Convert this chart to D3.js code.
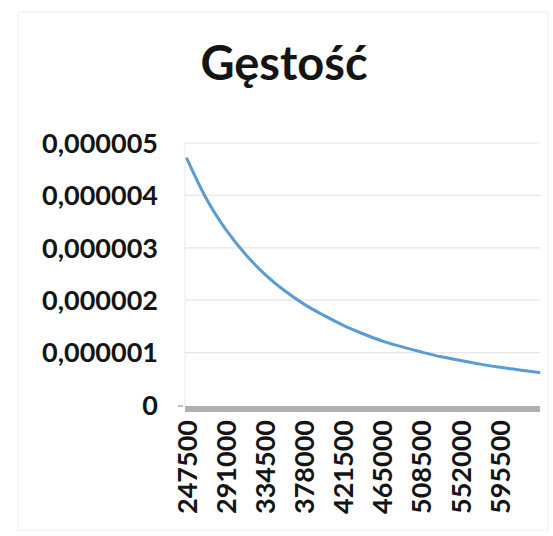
<!DOCTYPE html>
<html>
<head>
<meta charset="utf-8">
<script src="https://cdn.jsdelivr.net/npm/d3@7"></script>
<style>
  html, body { margin: 0; padding: 0; background: #fff; }
  svg { display: block; }
  text { font-family: Lato, "Open Sans", sans-serif; font-weight: bold; fill: #141414; }
</style>
</head>
<body>
<svg id="chart" width="553" height="536"></svg>
<script>
const title = "Gęstość";
const categories = [247500, 269250, 291000, 312750, 334500, 356250, 378000, 399750, 421500,
  443250, 465000, 486750, 508500, 530250, 552000, 573750, 595500, 617250, 639000];
const density = [0.00000470, 0.00000393, 0.00000334, 0.00000287, 0.00000249, 0.00000218,
  0.00000192, 0.00000171, 0.00000152, 0.00000136, 0.00000122, 0.00000111, 0.00000101,
  0.00000092, 0.00000085, 0.00000078, 0.00000072, 0.00000067, 0.00000062];
const xTickLabels = [247500, 291000, 334500, 378000, 421500, 465000, 508500, 552000, 595500];
const yTicks = [0, 0.000001, 0.000002, 0.000003, 0.000004, 0.000005];
const yTickLabels = ["0", "0,000001", "0,000002", "0,000003", "0,000004", "0,000005"];

const svg = d3.select("#chart");
const plot = { left: 187, right: 539, top: 143, bottom: 405 };

// chart area border
svg.append("rect").attr("x", 18).attr("y", 12).attr("width", 530).attr("height", 518)
  .attr("fill", "none").attr("stroke", "#efefef").attr("stroke-width", 1);

const x = d3.scalePoint().domain(categories).range([plot.left, plot.right]);
const y = d3.scaleLinear().domain([0, 0.000005]).range([plot.bottom, plot.top]);

// gridlines
svg.append("g").selectAll("line").data(yTicks.slice(1)).join("line")
  .attr("x1", plot.left - 2).attr("x2", plot.right + 1)
  .attr("y1", d => y(d)).attr("y2", d => y(d))
  .attr("stroke", "#e6e6e6").attr("stroke-width", 1.2);

// faint vertical axis line
svg.append("line").attr("x1", plot.left - 2).attr("x2", plot.left - 2)
  .attr("y1", y(0.000005)).attr("y2", y(0))
  .attr("stroke", "#ececec").attr("stroke-width", 1.2);

// y-axis tick labels
const yLab = d3.scaleOrdinal().domain(yTicks).range(yTickLabels);
svg.append("g").selectAll("text").data(yTicks).join("text")
  .attr("x", 158).attr("y", d => y(d)).attr("dy", "0.36em")
  .attr("text-anchor", "end").attr("font-size", 27)
  .text(d => yLab(d));

// small tick at zero
svg.append("line").attr("x1", 178).attr("x2", 183)
  .attr("y1", y(0) + 1).attr("y2", y(0) + 1).attr("stroke", "#888").attr("stroke-width", 1);

// x axis (thick grey line as in the scan)
svg.append("line").attr("x1", plot.left - 2).attr("x2", plot.right + 1)
  .attr("y1", y(0) + 4).attr("y2", y(0) + 4)
  .attr("stroke", "#b0b0b0").attr("stroke-width", 6);

// x tick labels (rotated)
svg.append("g").selectAll("text").data(xTickLabels).join("text")
  .attr("transform", d => `translate(${x(d)},420) rotate(-90)`)
  .attr("dy", "0.36em").attr("text-anchor", "end").attr("font-size", 27)
  .text(d => d);

// line
const line = d3.line().x((d, i) => x(categories[i])).y(d => y(d)).curve(d3.curveMonotoneX);
svg.append("path").datum(density).attr("d", line)
  .attr("fill", "none").attr("stroke", "#5b9bd5").attr("stroke-width", 3)
  .attr("stroke-linecap", "round");

// title
svg.append("text").attr("x", 284).attr("y", 80).attr("text-anchor", "middle")
  .attr("font-size", 47).text(title);
</script>
</body>
</html>
